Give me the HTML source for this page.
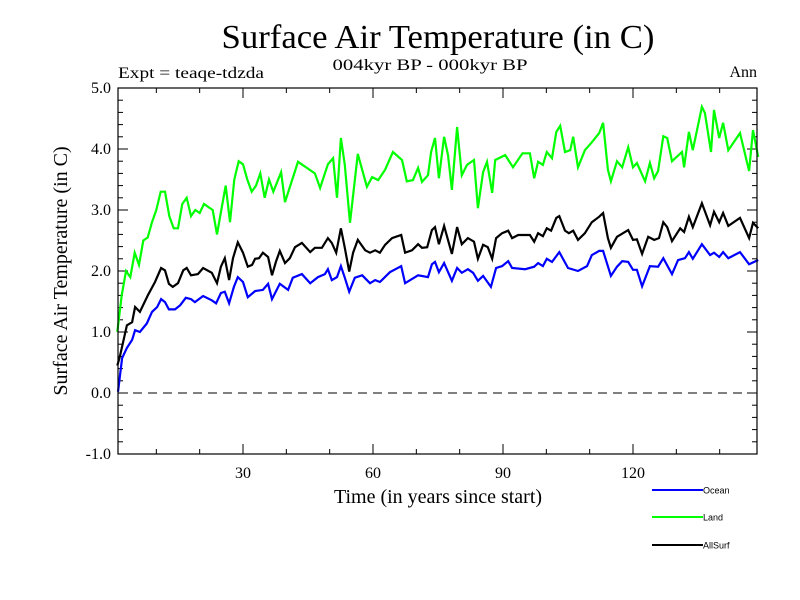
<!DOCTYPE html>
<html><head><meta charset="utf-8"><style>
html,body{margin:0;padding:0;background:#fff;}
svg{display:block;font-family:"Liberation Serif",serif;}
</style></head><body>
<svg id="chart" width="800" height="600" viewBox="0 0 800 600" xmlns="http://www.w3.org/2000/svg">
<rect x="0" y="0" width="800" height="600" fill="#fff"/>
<text x="438" y="48" text-anchor="middle" font-size="34" textLength="433" lengthAdjust="spacingAndGlyphs">Surface Air Temperature (in C)</text>
<text x="430" y="70" text-anchor="middle" font-size="16" textLength="195" lengthAdjust="spacingAndGlyphs">004kyr BP - 000kyr BP</text>
<text x="118" y="78" font-size="16" textLength="146" lengthAdjust="spacingAndGlyphs">Expt = teaqe-tdzda</text>
<text x="757" y="77" text-anchor="end" font-size="16">Ann</text>
<text transform="translate(67,271) rotate(-90)" text-anchor="middle" font-size="20">Surface Air Temperature (in C)</text>
<text x="438" y="503" text-anchor="middle" font-size="20">Time (in years since start)</text>
<g id="axes"></g>
<g id="series"></g>
<rect x="118" y="88" width="639" height="366" fill="none" stroke="#000" stroke-width="1.2"/>
<g id="legend" font-family="'Liberation Sans',sans-serif" font-size="9"></g>
</svg>
<script>
const yTicks = [-1.0, 0.0, 1.0, 2.0, 3.0, 4.0, 5.0];
const xTicks = [30, 60, 90, 120];
const seriesNames = ["Ocean", "Land", "AllSurf"];
const seriesColors = ["#0000ff", "#00ff00", "#000000"];

const landYears = [1,2,3,4,5,6,7,8,9,10,11,12,13,14,15,16,17,18,19,20,21,22,23,24,25,26,27,28,29,30,31,32,33,34,35,36,37,38.8,39.7,42.7,46.6,47.8,49.6,50.8,51.7,52.6,53.5,54.7,56.5,58.6,59.8,61.2,62.8,64.6,66.7,67.8,69.2,70.4,71.3,72.7,73.4,74.3,75.2,76.4,77.3,78.2,79.4,80.5,81.7,83.3,84.2,85.4,86.3,87.5,88.2,90.5,92.3,94.5,96.2,97.2,98.1,99.2,100.1,101.3,102.3,103.2,104.3,105.5,106.2,107.3,108.9,110.5,112.2,113.1,114.2,114.9,116.3,117.5,118.9,120,120.9,122.8,123.9,124.9,125.8,127,127.9,129,131.3,131.8,132.9,133.8,135.9,136.6,138,138.7,139.9,140.8,142,144.7,146.8,147.7,148.9];
const landValues = [1.0,1.6,2.0,1.9,2.3,2.1,2.5,2.55,2.8,3.0,3.3,3.3,2.9,2.7,2.7,3.1,3.2,2.9,3.0,2.95,3.1,3.05,3.0,2.6,3.0,3.4,2.8,3.5,3.8,3.75,3.5,3.3,3.4,3.6,3.2,3.5,3.3,3.62,3.13,3.79,3.6,3.36,3.75,3.85,3.2,4.18,3.74,2.79,3.92,3.38,3.54,3.49,3.66,3.95,3.82,3.47,3.49,3.69,3.46,3.57,3.95,4.18,3.52,4.2,3.9,3.33,4.36,3.57,3.74,3.82,3.03,3.62,3.79,3.28,3.82,3.9,3.7,3.93,3.93,3.52,3.79,3.74,3.95,3.85,4.28,4.38,3.95,3.98,4.2,3.7,3.98,4.11,4.26,4.43,3.66,3.47,3.8,3.7,4.03,3.7,3.77,3.47,3.77,3.52,3.64,4.21,4.18,3.8,3.95,3.7,4.28,3.98,4.69,4.59,3.95,4.64,4.18,4.43,3.98,4.26,3.64,4.31,3.87];

const allYears = [1,1.6,3.2,4.4,5.1,6.2,8.1,9.7,11.1,12,12.9,13.8,15,16.2,17,18,19.6,20.8,22.8,24,24.9,25.8,26.8,27.7,28.8,30,31.1,32.1,32.8,33.7,34.6,35.8,36.7,37.6,38.5,39.7,40.8,42,43.6,45.5,46.6,48.2,49.6,50.5,51.5,52.6,53.5,54.5,55.4,56.5,58.2,59.3,60.5,61.6,62.8,64.4,66.5,67.4,69,70.4,71.3,72.5,73.6,74.3,75.2,76.4,78.2,79.4,80.5,81.9,83.3,84.2,85.4,86.5,87.5,88.4,89.8,91.2,92.1,93.5,96.2,97.2,98.1,99.2,100.1,101.1,102.3,103,104.3,105.2,106.2,107.3,108.9,110.5,112.2,113.1,114.2,114.9,116.3,118.9,120,120.9,122.1,123.5,124.9,126,127,127.9,129,130.9,131.8,132.9,133.8,135.9,137.8,138.7,139.9,140.8,142,144.7,146.8,147.7,148.9];
const allValues = [0.45,0.6,1.11,1.16,1.41,1.33,1.61,1.82,2.05,2.01,1.79,1.74,1.8,2.01,2.05,1.93,1.95,2.05,1.97,1.8,2.07,2.21,1.85,2.21,2.47,2.3,2.07,2.1,2.2,2.21,2.3,2.23,1.93,2.15,2.33,2.13,2.21,2.39,2.46,2.31,2.38,2.38,2.54,2.46,2.3,2.7,2.38,1.99,2.3,2.51,2.34,2.3,2.34,2.3,2.43,2.54,2.59,2.3,2.34,2.44,2.38,2.39,2.67,2.72,2.44,2.74,2.28,2.72,2.44,2.54,2.48,2.2,2.43,2.39,2.2,2.54,2.62,2.66,2.54,2.59,2.59,2.48,2.62,2.57,2.7,2.66,2.87,2.9,2.66,2.62,2.66,2.51,2.62,2.8,2.89,2.95,2.54,2.38,2.56,2.67,2.51,2.52,2.28,2.56,2.51,2.54,2.8,2.72,2.49,2.7,2.64,2.89,2.72,3.11,2.75,2.97,2.8,2.95,2.74,2.87,2.54,2.79,2.7];

const oceanYears = [1.15,2.1,3.2,4.4,5.1,6.2,7.8,9,10.2,11.1,12,12.9,14.3,15.5,16.8,18,18.9,20.8,22.8,23.8,24.9,25.8,26.8,27.9,28.8,30,31.1,32.8,34.6,35.8,36.7,38.5,40.4,41.5,43.6,45.5,47.3,48.9,49.6,50.5,51.7,52.6,53.5,54.5,55.8,57.5,59.3,60.5,61.6,63.9,66.5,67.4,70.4,72.7,73.6,74.3,75.2,76.4,78.2,79.4,80.5,81.9,83.1,84.2,85.4,87.2,88.4,89.8,91.2,92.1,95.1,97.2,98.1,99.2,100.1,101.3,103,105,107.3,109.4,110.5,112.2,113.1,114.9,116.3,117.5,118.9,120,120.9,122.1,123.9,125.8,127,129,130.4,132,132.9,133.8,135.9,137.8,138.7,139.9,140.8,142,144.7,146.8,148.9];
const oceanValues = [0.02,0.57,0.74,0.87,1.03,1.0,1.14,1.33,1.41,1.54,1.49,1.37,1.37,1.44,1.56,1.54,1.49,1.59,1.52,1.47,1.64,1.66,1.47,1.74,1.9,1.82,1.57,1.67,1.69,1.79,1.54,1.79,1.69,1.89,1.95,1.8,1.9,1.95,2.03,1.85,1.9,2.08,1.89,1.66,1.89,1.93,1.8,1.85,1.82,1.98,2.08,1.8,1.93,1.9,2.11,2.15,1.98,2.13,1.84,2.05,1.97,2.03,1.97,1.84,1.92,1.74,2.05,2.08,2.16,2.05,2.03,2.07,2.13,2.08,2.2,2.15,2.31,2.05,2.0,2.08,2.26,2.33,2.33,1.92,2.07,2.16,2.15,2.02,2.02,1.75,2.08,2.07,2.21,1.95,2.18,2.21,2.31,2.2,2.44,2.26,2.3,2.23,2.31,2.21,2.31,2.11,2.18];

const NS = "http://www.w3.org/2000/svg";
const L = 118, R = 757, T = 88, B = 454;
function xs(t){ return 113 + t * (130/30); }
function ys(v){ return 393 - v * 61; }
function mk(tag, attrs, parent){ const e = document.createElementNS(NS, tag); for (const k in attrs) e.setAttribute(k, attrs[k]); parent.appendChild(e); return e; }

const axes = document.getElementById('axes');
// y ticks (major + minor), both sides, inward
for (let i = -5; i <= 25; i++) {
  const v = i / 5, y = ys(v), major = (i % 5 === 0), len = major ? 10 : 5;
  const t1 = mk('line', {x1:L, x2:L+len, y1:y, y2:y, stroke:'#000', 'stroke-width':1}, axes);
  
  
  const t2 = mk('line', {x1:R-len, x2:R, y1:y, y2:y, stroke:'#000', 'stroke-width':1}, axes);
  
  
}
yTicks.forEach(v => {
  const tx = mk('text', {x:111, y:ys(v)+5, 'text-anchor':'end', 'font-size':16}, axes);
  tx.textContent = v.toFixed(1);
  
  
});
for (let t = 10; t <= 140; t += 10) {
  const x = xs(t), major = (t % 30 === 0), len = major ? 10 : 5;
  const a = mk('line', {x1:x, x2:x, y1:B, y2:B-len, stroke:'#000', 'stroke-width':1}, axes);
  
  
  const b = mk('line', {x1:x, x2:x, y1:T, y2:T+len, stroke:'#000', 'stroke-width':1}, axes);
  
  
}
xTicks.forEach(t => {
  const tx = mk('text', {x:xs(t), y:478, 'text-anchor':'middle', 'font-size':16}, axes);
  tx.textContent = String(t);
  
  
});
const zl = mk('line', {x1:L, x2:R, y1:ys(0), y2:ys(0), stroke:'#000', 'stroke-width':1, 'stroke-dasharray':'9,6'}, axes);



const sg = document.getElementById('series');
const allSeries = [[oceanYears, oceanValues], [landYears, landValues], [allYears, allValues]];
// draw order: land, allsurf, ocean
[1, 2, 0].forEach(i => {
  const [yrs, vals] = allSeries[i];
  const pts = yrs.map((t, k) => xs(t).toFixed(1) + ',' + ys(vals[k]).toFixed(1)).join(' ');
  const pl = mk('polyline', {points:pts, fill:'none', stroke:seriesColors[i], 'stroke-width':2.2, 'stroke-linejoin':'miter'}, sg);
  
  
});

const lg = document.getElementById('legend');
const legendY = [490, 517, 545];
seriesNames.forEach((n, i) => {
  const ln = mk('line', {x1:652, x2:703, y1:legendY[i], y2:legendY[i], stroke:seriesColors[i], 'stroke-width':2}, lg);
  
  
  const tx = mk('text', {x:703, y:legendY[i]+3.5}, lg);
  tx.textContent = n;
  
  
});
</script>
</body></html>
